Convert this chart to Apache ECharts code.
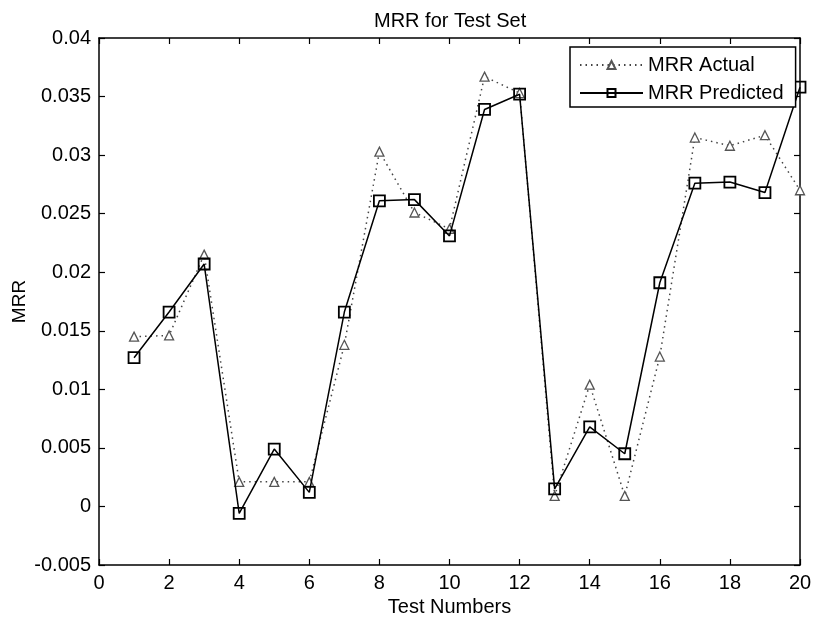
<!DOCTYPE html>
<html>
<head>
<meta charset="UTF-8">
<title>MRR for Test Set</title>
<style>
  html, body { margin: 0; padding: 0; background: #fff; }
  #chart { width: 814px; height: 621px; }
</style>
</head>
<body>
<div id="chart"></div>
<script src="https://cdn.jsdelivr.net/npm/echarts@6/dist/echarts.min.js"></script>
<script>
// test numbers 1..20
var testNumbers = [1, 2, 3, 4, 5, 6, 7, 8, 9, 10, 11, 12, 13, 14, 15, 16, 17, 18, 19, 20];
// MRR Actual (triangles, dotted)
var mrrActual = [0.0145, 0.0146, 0.0215, 0.0021, 0.0021, 0.0021, 0.0138, 0.0303, 0.0251, 0.0237,
                 0.0367, 0.0353, 0.0009, 0.0104, 0.0009, 0.0128, 0.0315, 0.0308, 0.0317, 0.0270];
// MRR Predicted (squares, solid)
var mrrPredicted = [0.0127, 0.0166, 0.0207, -0.0006, 0.0049, 0.0012, 0.0166, 0.0261, 0.0262, 0.0231,
                    0.0339, 0.0352, 0.0015, 0.0068, 0.0045, 0.0191, 0.0276, 0.0277, 0.0268, 0.0358];

var FONT = '"Liberation Sans", Arial, sans-serif';

function pairs(vals) {
    return testNumbers.map(function(x, i) { return [x, vals[i]]; });
}

var chart = echarts.init(document.getElementById('chart'));

var baseX = {
    type: 'value',
    min: 0,
    max: 20,
    interval: 2,
    axisLine: { onZero: false, lineStyle: { color: '#000', width: 1.5 } },
    axisTick: { inside: true, length: 6, lineStyle: { color: '#000', width: 1.2 } },
    splitLine: { show: false }
};
var baseY = {
    type: 'value',
    min: -0.005,
    max: 0.04,
    interval: 0.005,
    axisLine: { show: true, onZero: false, lineStyle: { color: '#000', width: 1.5 } },
    axisTick: { show: true, inside: true, length: 6, lineStyle: { color: '#000', width: 1.2 } },
    splitLine: { show: false }
};

var option = {
    animation: false,
    backgroundColor: '#fff',
    title: {
        text: 'MRR for Test Set',
        left: 369,
        top: 6,
        textStyle: { fontFamily: FONT, fontSize: 20, fontWeight: 'normal', color: '#000' }
    },
    grid: { left: 99, right: 14, top: 38, bottom: 56, outerBoundsMode: 'none' },
    legend: {
        orient: 'vertical',
        left: 570,
        top: 47,
        padding: [8, 12, 4, 9],
        itemWidth: 63,
        itemHeight: 10,
        itemGap: 8,
        backgroundColor: '#fff',
        borderColor: '#000',
        borderWidth: 1.5,
        borderRadius: 0,
        textStyle: { fontFamily: FONT, fontSize: 20, color: '#000' },
        data: ['MRR Actual', 'MRR Predicted']
    },
    xAxis: [
        echarts.util.merge({
            position: 'bottom',
            name: 'Test Numbers',
            nameLocation: 'middle',
            nameGap: 32,
            nameMoveOverlap: false,
            nameTextStyle: { fontFamily: FONT, fontSize: 20, color: '#000' },
            axisLabel: { fontFamily: FONT, fontSize: 20, color: '#000', margin: 8 }
        }, baseX, true),
        echarts.util.merge({
            position: 'top',
            axisLabel: { show: false }
        }, baseX, true)
    ],
    yAxis: [
        echarts.util.merge({
            position: 'left',
            name: 'MRR',
            nameLocation: 'middle',
            nameGap: 70,
            nameMoveOverlap: false,
            nameTextStyle: { fontFamily: FONT, fontSize: 19, color: '#000' },
            axisLabel: {
                fontFamily: FONT, fontSize: 20, color: '#000', margin: 8,
                formatter: function(v) { return String(+v.toFixed(3)); }
            }
        }, baseY, true),
        echarts.util.merge({
            position: 'right',
            axisLabel: { show: false }
        }, baseY, true)
    ],
    series: [
        {
            name: 'MRR Actual',
            type: 'line',
            data: pairs(mrrActual),
            symbol: 'triangle',
            symbolSize: 9,
            showAllSymbol: true,
            color: '#555',
            lineStyle: { color: '#444', width: 1.5, type: [1.5, 4] },
            itemStyle: { color: '#fff', borderColor: '#555', borderWidth: 1.3 },
            z: 2
        },
        {
            name: 'MRR Predicted',
            type: 'line',
            data: pairs(mrrPredicted),
            symbol: 'rect',
            symbolSize: 11,
            showAllSymbol: true,
            color: '#000',
            lineStyle: { color: '#000', width: 1.5 },
            itemStyle: { color: 'rgba(255,255,255,0)', borderColor: '#000', borderWidth: 1.8 },
            z: 3
        }
    ]
};

chart.setOption(option);
</script>
</body>
</html>
